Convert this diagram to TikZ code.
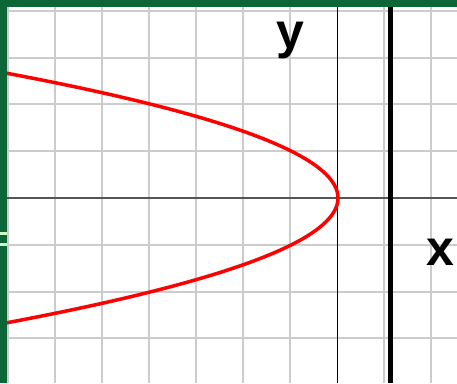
\documentclass[tikz,border=0pt]{standalone}
\usepackage{fontspec}
\setmainfont{Liberation Sans}
\definecolor{framegreen}{HTML}{0C6638}
\definecolor{gridgray}{HTML}{CCCCCC}
\definecolor{axisgray}{HTML}{555555}
\begin{document}
\begin{tikzpicture}[x=1pt,y=-1pt,
  gridline/.style={draw=gridgray,line width=1.6pt},
  xaxisline/.style={draw=axisgray,line width=1.5pt},
  yaxisline/.style={draw=black,line width=1.2pt},
  directrix/.style={draw=black,line width=5pt},
  curve/.style={draw=red,line width=3.5pt},
  axislabel/.style={font=\fontsize{50}{60}\selectfont\bfseries,inner sep=0pt,anchor=base}]
\useasboundingbox (0,0) rectangle (457,383);
\fill[white] (0,0) rectangle (457,383);
\begin{scope}
  \clip (7,7) rectangle (457,383);
  \foreach \x in {8,55,102,149,196,243,290,384,431} \draw[gridline] (\x,0) -- (\x,383);
  \foreach \y in {11,58,104,151,245,292,338} \draw[gridline] (0,\y) -- (457,\y);
  \draw[xaxisline] (0,198) -- (457,198);
  \draw[yaxisline] (337.5,0) -- (337.5,383);
  \draw[directrix] (390,0) -- (390,383);
  \draw[curve] plot[domain=-2.8:2.8, samples=121, variable=\t, smooth] ({338-47*\t*\t},{198+47*\t});
\end{scope}
\fill[framegreen] (0,0) rectangle (457,7);
\fill[framegreen] (0,0) rectangle (7,383);
\fill[green!20!white] (0,232) rectangle (7,234.5);
\fill[green!20!white] (0,243) rectangle (7,245.5);
\node[axislabel] (ylabel) at (290,48) {y};
\node[axislabel] (xlabel) at (440,265) {x};
\end{tikzpicture}
\end{document}
